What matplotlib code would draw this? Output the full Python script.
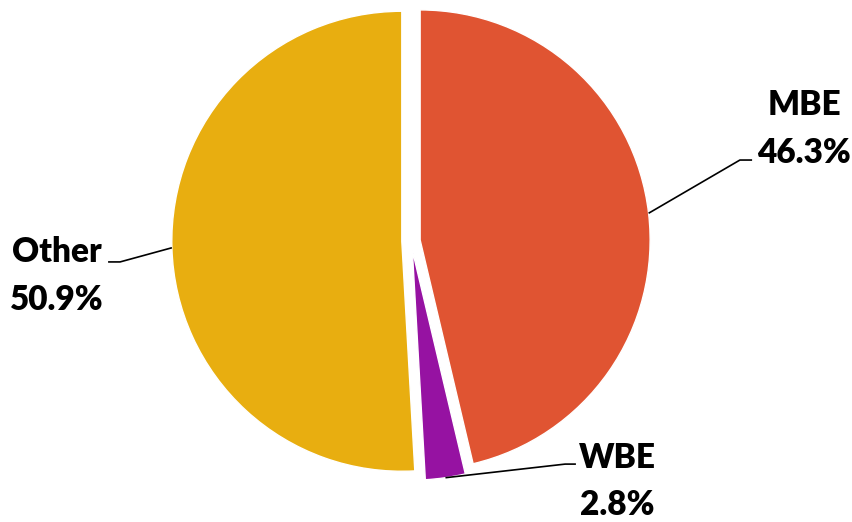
import numpy as np
import matplotlib.pyplot as plt

# slice data, clockwise from 12 o'clock
names = ["MBE", "WBE", "Other"]
shares = [46.3, 2.8, 50.9]
colors = ["#E05432", "#9612A2", "#E8AE10"]

# label block centres and leader elbows (data units, radius = 1)
text_pos = [(1.709, 0.487), (0.896, -1.046), (-1.539, -0.152)]
elbow_pos = [(1.430, 0.352), (0.670, -0.970), (-1.265, -0.091)]
end_pos = [(1.483, 0.352), (0.717, -0.970), (-1.317, -0.091)]

explode = 0.04

fig = plt.figure(figsize=(8.52, 5.22), dpi=100)
ax = fig.add_axes([0, 0, 1, 1])

wedges, _ = ax.pie(shares, colors=colors, startangle=90, counterclock=False,
                   explode=[explode] * len(shares), radius=1.0,
                   wedgeprops=dict(edgecolor="white", linewidth=1))

# axes sized so that one unit = 230 px, centre at (411, 241)
ax.set_xlim(-411 / 230, (852 - 411) / 230)
ax.set_ylim(-(522 - 241) / 230, 241 / 230)
ax.set_aspect("auto")
ax.axis("off")

for w, name, val, tp, ep, endp in zip(wedges, names, shares, text_pos, elbow_pos, end_pos):
    ang = np.deg2rad((w.theta1 + w.theta2) / 2)
    r = 1.0 + explode
    sx, sy = r * np.cos(ang), r * np.sin(ang)
    ax.plot([sx, ep[0], endp[0]], [sy, ep[1], endp[1]], color="black", lw=1.2,
            solid_capstyle="butt")
    ax.text(tp[0], tp[1], f"{name}\n{val}%", ha="center", va="center",
            multialignment="center", fontsize=24, fontweight="heavy",
            family="Lato", linespacing=1.6)

fig.savefig("out.png", dpi=100)
